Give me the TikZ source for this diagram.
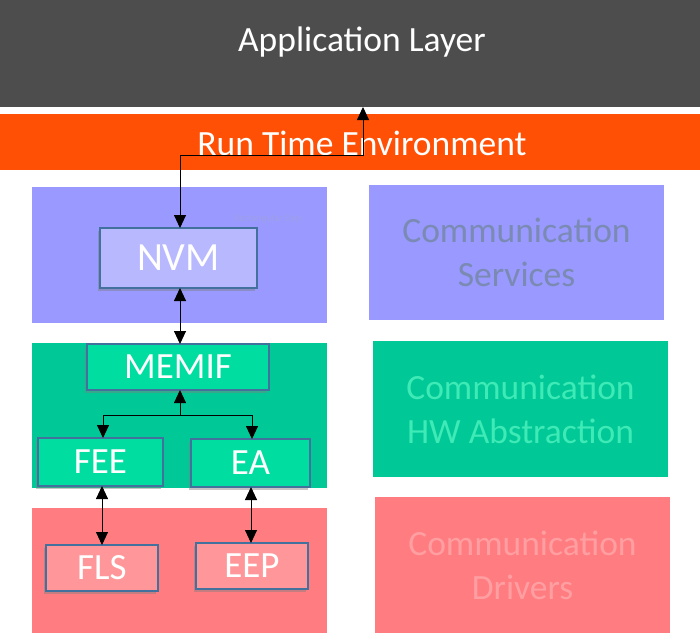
\documentclass[tikz,border=0pt]{standalone}
\usepackage{fontspec}
\setmainfont{Carlito}
\usetikzlibrary{arrows.meta,shadows}
\definecolor{appgray}{HTML}{4D4D4D}
\definecolor{rteorange}{HTML}{FF5006}
\definecolor{svcblue}{HTML}{9999FF}
\definecolor{nvmfill}{HTML}{B8B8FF}
\definecolor{svctext}{HTML}{7A8AB2}
\definecolor{hwgreen}{HTML}{00C896}
\definecolor{memfill}{HTML}{00DDA0}
\definecolor{hwtext}{HTML}{3EEAB6}
\definecolor{drvred}{HTML}{FF7C80}
\definecolor{drvfill}{HTML}{FF979A}
\definecolor{drvtext}{HTML}{FF9FA2}
\definecolor{edge}{HTML}{41719C}
\begin{document}
\begin{tikzpicture}[x=1pt,y=-1pt,
  layer/.style={draw=none,inner sep=0pt,outer sep=0pt},
  mod/.style={draw=edge,line width=1.3pt,inner sep=0pt,outer sep=0pt,text=white,
     font=\fontsize{37}{40}\selectfont,
     drop shadow={opacity=0.45,shadow xshift=-2.5pt,shadow yshift=-2.5pt}},
  big/.style={font=\fontsize{35.5}{44}\selectfont,align=center,inner sep=0pt},
  conn/.style={black,line width=0.9pt},
  tip/.style={-{Triangle[length=13pt,width=12pt]}},
  tips/.style={{Triangle[length=13pt,width=12pt]}-{Triangle[length=13pt,width=12pt]}}
]
\useasboundingbox (0,0) rectangle (700,642);
\fill[white] (0,0) rectangle (700,642);
% application layer
\node[layer,fill=appgray,minimum width=700pt,minimum height=107pt] (app) at (350,53.5) {};
\node[big,text=white] (appt) at (362,42) {Application Layer};
% RTE
\node[layer,fill=rteorange,minimum width=700pt,minimum height=56pt] (rte) at (350,142) {};
\node[big,text=white] (rtet) at (362,143) {Run Time Environment};
% left layers
\node[layer,fill=svcblue,minimum width=295pt,minimum height=136pt] (svcL) at (179.5,255) {};
\node[layer,fill=hwgreen,minimum width=295pt,minimum height=145pt] (hwL) at (179.5,415.5) {};
\node[layer,fill=drvred,minimum width=295pt,minimum height=125pt] (drvL) at (179.5,570.5) {};
% right layers
\node[layer,fill=svcblue,minimum width=295pt,minimum height=135pt,big,text=svctext] (svcR) at (516.5,252.5) {Communication\\Services};
\node[layer,fill=hwgreen,minimum width=295pt,minimum height=136pt,big,text=hwtext] (hwR) at (520.5,409) {Communication\\HW Abstraction};
\node[layer,fill=drvred,minimum width=295pt,minimum height=136pt,big,text=drvtext] (drvR) at (522.5,565) {Communication\\Drivers};
% faint snip label
\node[font=\fontsize{10}{12}\selectfont,text=svcblue!80!gray!90,inner sep=0pt] (snip) at (268,219) {Rectangular Snip};
% modules
\node[mod,fill=nvmfill,minimum width=157pt,minimum height=60pt,font=\fontsize{40}{44}\selectfont] (nvm) at (178.5,258) {NVM};
\node[mod,fill=memfill,minimum width=182pt,minimum height=46pt] (memif) at (178,367) {MEMIF};
\node[mod,fill=memfill,minimum width=125pt,minimum height=48pt] (fee) at (100.5,462) {FEE};
\node[mod,fill=memfill,minimum width=119pt,minimum height=48pt] (ea) at (250.5,463) {EA};
\node[mod,fill=drvfill,minimum width=112pt,minimum height=46pt] (fls) at (102,568) {FLS};
\node[mod,fill=drvfill,minimum width=112pt,minimum height=46pt] (eep) at (252,566) {EEP};
% connectors
\coordinate (apin) at (363,107);
\draw[conn,tips] (apin) -- (363,155) -| (nvm.north -| 180,0);
\draw[conn,tips] (nvm.south -| 180,0) -- (memif.north -| 180,0);
\draw[conn,tip] (memif.south -| 180,0) ++(0,25) coordinate (fork) -- (memif.south -| 180,0);
\draw[conn,tip] (fork) -| (fee.north -| 103,0);
\draw[conn,tip] (fork) -| (ea.north -| 252,0);
\draw[conn,tips] (fee.south -| 102,0) -- (fls.north -| 102,0);
\draw[conn,tips] (ea.south -| 251,0) -- (eep.north -| 251,0);
\end{tikzpicture}
\end{document}
